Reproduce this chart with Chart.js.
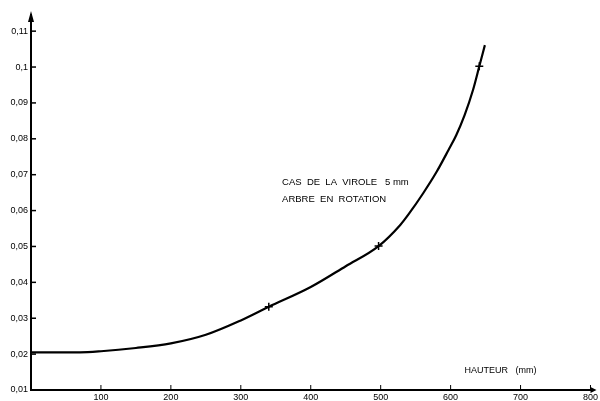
<!DOCTYPE html>
<html>
<head>
<meta charset="utf-8">
<script src="https://cdn.jsdelivr.net/npm/chart.js@4/dist/chart.umd.min.js"></script>
<style>
  html, body { margin: 0; padding: 0; background: #fff; }
  #wrap { width: 600px; height: 401px; position: relative; }
</style>
</head>
<body>
<div id="wrap"><canvas id="chart"></canvas></div>
<script>
// ── Data ──────────────────────────────────────────────────────────────────
const curveX = [0, 70, 100, 150, 200, 250, 300, 340, 400, 450, 497, 528, 540, 561, 580, 597, 608, 620, 632, 641, 649];
const curveY = [0.0205, 0.0205, 0.0208, 0.0217, 0.0230, 0.0254, 0.0294, 0.0332, 0.0387, 0.0445, 0.0501, 0.0560, 0.0590, 0.0649, 0.0708, 0.0769, 0.0810, 0.0866, 0.0936, 0.1002, 0.1061];

const markX = [340, 497, 641];
const markY = [0.0332, 0.0501, 0.1002];

const xTicks = [100, 200, 300, 400, 500, 600, 700, 800];
const xTickLabels = ['100', '200', '300', '400', '500', '600', '700', '800'];
const yTicks = [0.01, 0.02, 0.03, 0.04, 0.05, 0.06, 0.07, 0.08, 0.09, 0.1, 0.11];
const yTickLabels = ['0,01', '0,02', '0,03', '0,04', '0,05', '0,06', '0,07', '0,08', '0,09', '0,1', '0,11'];

const noteLines = ['CAS  DE  LA  VIROLE   5 mm', 'ARBRE  EN  ROTATION'];
const xTitle = 'HAUTEUR   (mm)';

const FONT = '"Liberation Sans", Arial, sans-serif';

// ── Inward ticks, arrows and free text ────────────────────────────────────
const decorations = {
    id: 'decorations',
    afterDraw(chart) {
        const { ctx, chartArea: a, scales: { x, y } } = chart;
        ctx.save();
        ctx.strokeStyle = '#000';
        ctx.fillStyle = '#000';

        // y ticks (pointing right)
        ctx.lineWidth = 1.5;
        yTicks.forEach(v => {
            const py = y.getPixelForValue(v);
            ctx.beginPath(); ctx.moveTo(a.left, py); ctx.lineTo(a.left + 5, py); ctx.stroke();
        });
        // x ticks (pointing up)
        ctx.lineWidth = 1;
        xTicks.forEach(v => {
            const px = x.getPixelForValue(v);
            ctx.beginPath(); ctx.moveTo(px, a.bottom); ctx.lineTo(px, a.bottom - 5); ctx.stroke();
        });

        // arrow heads
        ctx.beginPath();
        ctx.moveTo(a.left, a.top - 4);
        ctx.lineTo(a.left - 3, a.top + 7);
        ctx.lineTo(a.left + 3, a.top + 7);
        ctx.closePath(); ctx.fill();
        ctx.beginPath();
        ctx.moveTo(a.right + 6, a.bottom);
        ctx.lineTo(a.right, a.bottom - 3);
        ctx.lineTo(a.right, a.bottom + 3);
        ctx.closePath(); ctx.fill();

        // annotation text
        ctx.font = '9.5px ' + FONT;
        ctx.textBaseline = 'middle';
        ctx.textAlign = 'left';
        const tx = x.getPixelForValue(359);
        ctx.fillText(noteLines[0], tx, y.getPixelForValue(0.0679));
        ctx.fillText(noteLines[1], tx, y.getPixelForValue(0.0630));
        ctx.font = '9px ' + FONT;
        ctx.fillText(xTitle, x.getPixelForValue(620), y.getPixelForValue(0.0155));
        ctx.restore();
    }
};

new Chart(document.getElementById('chart'), {
    type: 'line',
    data: {
        datasets: [
            {
                data: curveX.map((v, i) => ({ x: v, y: curveY[i] })),
                borderColor: '#000', borderWidth: 2.2, pointRadius: 0,
                cubicInterpolationMode: 'monotone', fill: false
            },
            {
                data: markX.map((v, i) => ({ x: v, y: markY[i] })),
                showLine: false, pointStyle: 'cross', pointRadius: 4,
                borderColor: '#000', borderWidth: 1.5
            }
        ]
    },
    plugins: [decorations],
    options: {
        responsive: true,
        maintainAspectRatio: false,
        animation: false,
        layout: { padding: { top: 15, right: 7, left: 0, bottom: 0 } },
        plugins: { legend: { display: false }, tooltip: { enabled: false } },
        scales: {
            x: {
                type: 'linear', min: 0, max: 800,
                grid: { display: false, drawTicks: false },
                border: { display: true, color: '#000', width: 2 },
                afterBuildTicks: s => { s.ticks = xTicks.map(v => ({ value: v })); },
                afterFit: s => { s.height = 11; },
                ticks: {
                    padding: 2, maxRotation: 0, autoSkip: false,
                    color: '#000', font: { family: FONT, size: 9 },
                    callback: (v, i) => xTickLabels[i]
                }
            },
            y: {
                type: 'linear', min: 0.01, max: 0.1145,
                grid: { display: false, drawTicks: false },
                border: { display: true, color: '#000', width: 2 },
                afterBuildTicks: s => { s.ticks = yTicks.map(v => ({ value: v })); },
                afterFit: s => { s.width = 31; },
                ticks: {
                    padding: 3, autoSkip: false,
                    color: '#000', font: { family: FONT, size: 9 },
                    callback: (v, i) => yTickLabels[i]
                }
            }
        }
    }
});
</script>
</body>
</html>
